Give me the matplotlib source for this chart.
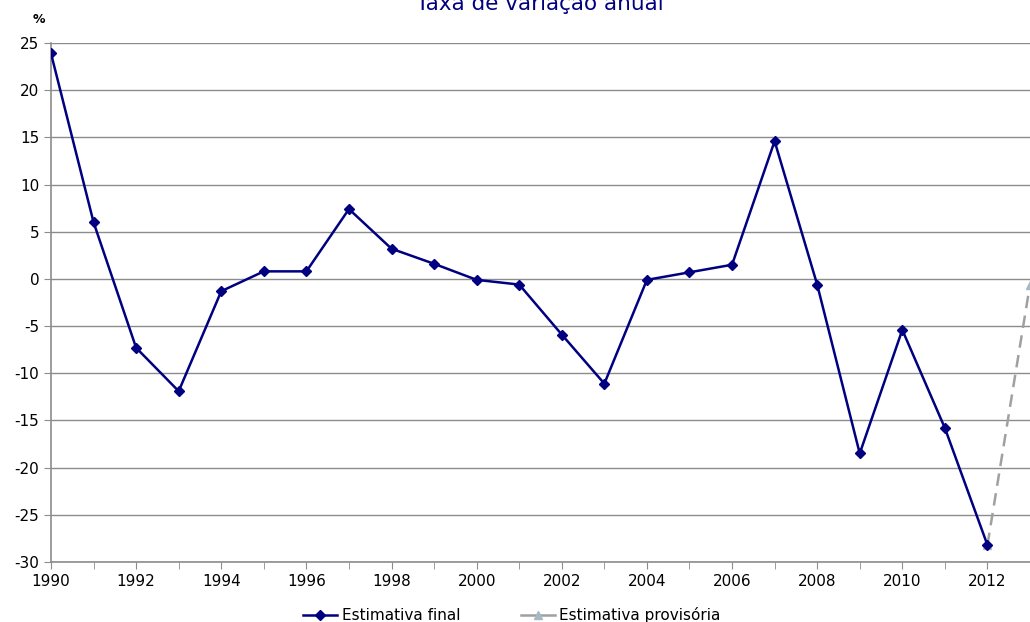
import matplotlib.pyplot as plt
from matplotlib.lines import Line2D

# Annual variation (%)
years = [1990, 1991, 1992, 1993, 1994, 1995, 1996, 1997, 1998, 1999, 2000,
         2001, 2002, 2003, 2004, 2005, 2006, 2007, 2008, 2009, 2010, 2011, 2012]
final_est = [23.9, 6.0, -7.3, -11.9, -1.3, 0.8, 0.8, 7.4, 3.2, 1.6, -0.1,
             -0.6, -5.9, -11.1, -0.1, 0.7, 1.5, 14.6, -0.6, -18.5, -5.4, -15.8, -28.2]
prov_years = [2012, 2013]
prov_est = [-28.2, -0.6]

navy = "#000080"
grid_grey = "#8c8c8c"

plt.rcParams["font.family"] = ["DejaVu Sans"]
plt.rcParams["axes.unicode_minus"] = False

fig = plt.figure(figsize=(10.30, 6.22), dpi=100)
# the original chart is cropped on the right, so the axes run off the figure
ax = fig.add_axes([51 / 1030, 1 - 562 / 622, 979 / 1030, (562 - 43) / 622])

ax.plot(prov_years, prov_est, color="#a0a0a0", lw=1.8, ls=(0, (5, 3)),
        marker="^", ms=6, mfc="#a7b9c4", mec="#a7b9c4", zorder=2)
ax.plot(years, final_est, color=navy, lw=1.8, marker="D", ms=5.5,
        mfc=navy, mec=navy, zorder=3)

ax.set_xlim(1990, 1990 + 979 / 43)
ax.set_ylim(-30, 25)
ax.set_yticks(range(-30, 26, 5))
ax.set_xticks(range(1990, 2013, 2))
ax.set_xticks(range(1990, 2014), minor=True)
ax.yaxis.grid(True, color=grid_grey, lw=1)
ax.set_axisbelow(True)

for s in ["top", "right"]:
    ax.spines[s].set_visible(False)
for s in ["left", "bottom"]:
    ax.spines[s].set_color(grid_grey)
    ax.spines[s].set_linewidth(1.2)

ax.tick_params(axis="both", which="both", direction="out", color=grid_grey,
               labelsize=11, length=5)
ax.tick_params(axis="x", which="major", pad=4)

ax.text(-0.012, 1.045, "%", transform=ax.transAxes, fontsize=9,
        fontweight="bold", ha="center", va="center")
fig.text(540 / 1030, 1 - 4 / 622, "Taxa de variação anual", color=navy,
         fontsize=15.5, ha="center", va="center")

handles = [
    Line2D([], [], color=navy, lw=1.8, marker="D", ms=5, mfc=navy, mec=navy),
    Line2D([], [], color="#a0a0a0", lw=1.8, marker="^", ms=6,
           mfc="#a7b9c4", mec="#a7b9c4"),
]
fig.legend(handles, ["Estimativa final", "Estimativa provisória"],
           loc="center", bbox_to_anchor=(512 / 1030, 1 - 615 / 622), ncol=2,
           frameon=False, fontsize=11, handlelength=2.2, columnspacing=4,
           handletextpad=0.3)

fig.savefig("out.png", dpi=100)
